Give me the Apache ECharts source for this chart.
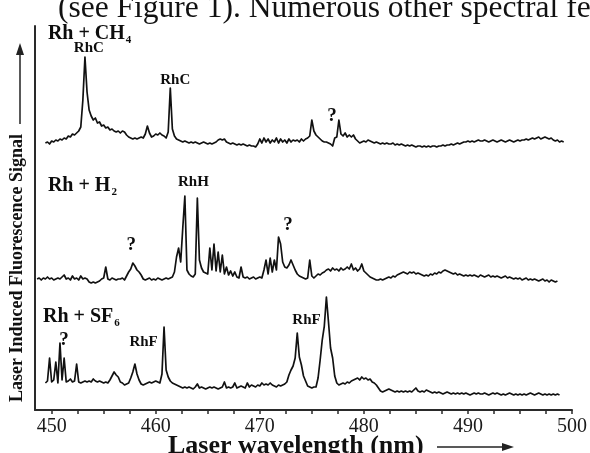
<!DOCTYPE html>
<html>
<head>
<meta charset="utf-8">
<script src="https://cdn.jsdelivr.net/npm/echarts@6/dist/echarts.min.js"></script>
<style>
  html, body { margin: 0; padding: 0; background: #fff; }
  #chart { width: 590px; height: 453px; }
</style>
</head>
<body>
<div id="chart"></div>
<script>
// Wavelength grid of each scan (nm): first point and spacing
const ch4Start = 449.4;
const h2Start = 448.6;
const sf6Start = 449.4;
const scanStep = 0.2;

// Laser induced fluorescence, stacked traces (arbitrary units)
const ch4Signal = [
  267, 268, 266, 269, 268, 270, 269, 271, 270, 272,
  271, 274, 273, 276, 275, 277, 279, 283, 310, 353,
  318, 300, 294, 290, 292, 287, 288, 284, 285, 282,
  283, 280, 281, 279, 278, 279, 277, 279, 278, 275,
  273, 272, 271, 272, 271, 272, 273, 272, 276, 284,
  277, 273, 274, 276, 275, 277, 275, 274, 272, 278,
  322, 281, 274, 271, 270, 269, 268, 269, 268, 267,
  268, 267, 268, 267, 266, 267, 268, 267, 266, 267,
  266, 267, 268, 270, 271, 270, 271, 268, 267, 266,
  267, 266, 265, 266, 265, 266, 265, 264, 265, 264,
  264, 263, 266, 271, 267, 272, 268, 271, 267, 270,
  268, 272, 267, 271, 268, 270, 267, 271, 268, 270,
  269, 270, 268, 271, 269, 271, 272, 274, 290, 279,
  275, 273, 271, 269, 268, 268, 267, 266, 264, 272,
  273, 290, 276, 274, 277, 273, 275, 273, 275, 271,
  269, 267, 268, 269, 268, 270, 269, 268, 267, 268,
  267, 266, 267, 266, 267, 266, 266, 267, 265, 266,
  265, 266, 265, 264, 265, 264, 265, 264, 263, 264,
  264, 263, 264, 263, 264, 263, 264, 264, 263, 264,
  264, 265, 264, 265, 265, 266, 265, 266, 267, 266,
  267, 268, 268, 269, 268, 269, 268, 269, 270, 269,
  269, 270, 269, 268, 269, 270, 269, 268, 269, 270,
  269, 268, 269, 270, 269, 268, 269, 270, 269, 270,
  270, 271, 270, 271, 272, 271, 272, 273, 271, 272,
  273, 272, 271, 272, 270, 269, 270, 268, 269, 268
];

const h2Signal = [
  131, 132, 130, 132, 131, 133, 131, 132, 130, 131,
  132, 131, 133, 135, 131, 132, 130, 134, 131, 132,
  130, 134, 131, 132, 131, 128, 127, 128, 127, 128,
  129, 131, 132, 143, 131, 130, 132, 131, 130, 131,
  131, 132, 130, 134, 138, 141, 147, 144, 140, 138,
  135, 131, 130, 131, 132, 130, 131, 130, 132, 131,
  130, 131, 132, 131, 132, 133, 138, 153, 162, 148,
  182, 214, 140, 136, 134, 133, 136, 212, 150, 142,
  138, 137, 136, 162, 140, 166, 139, 158, 138, 155,
  136, 143, 135, 139, 134, 138, 133, 132, 143, 133,
  132, 133, 131, 132, 133, 131, 132, 133, 132, 140,
  150, 136, 152, 138, 150, 140, 173, 166, 148, 143,
  142, 145, 150, 145, 140, 136, 134, 133, 132, 131,
  132, 150, 134, 132, 134, 136, 135, 137, 138, 140,
  141, 139, 142, 140, 141, 139, 142, 140, 141, 143,
  141, 146, 140, 142, 139, 141, 146, 139, 137, 135,
  133, 132, 131, 130, 130, 131, 130, 131, 132, 133,
  132, 134, 133, 135, 136, 137, 138, 137, 136, 138,
  137, 138, 136, 137, 136, 135, 134, 135, 134, 136,
  135, 137, 136, 138, 137, 139, 140, 139, 138, 137,
  136, 137, 135, 136, 135, 134, 135, 134, 135, 134,
  135, 134, 133, 135, 134, 133, 134, 135, 133, 134,
  133, 134, 133, 132, 133, 134, 132, 133, 132, 131,
  132, 131, 132, 130, 131, 132, 130, 131, 130, 131,
  130, 129, 130, 131, 129, 130, 128, 130, 129, 128,
  129
];

const sf6Signal = [
  27, 29, 52, 28, 30, 48, 27, 67, 30, 52,
  28, 29, 31, 28, 29, 46, 28, 27, 28, 29,
  28, 29, 28, 31, 29, 28, 29, 28, 27, 28,
  27, 30, 34, 38, 35, 33, 28, 27, 25, 26,
  27, 32, 38, 46, 36, 30, 26, 25, 26, 27,
  28, 27, 28, 29, 28, 27, 36, 83, 40, 33,
  29, 27, 26, 25, 24, 23, 22, 23, 22, 23,
  22, 21, 23, 26, 22, 23, 22, 21, 22, 23,
  22, 23, 22, 21, 22, 23, 28, 22, 23, 22,
  23, 27, 22, 23, 24, 23, 22, 27, 23, 25,
  24, 23, 25, 24, 27, 25, 26, 25, 27, 25,
  24, 23, 25, 24, 25, 26, 28, 35, 40, 44,
  52, 77, 53, 45, 34, 29, 24, 23, 22, 23,
  23, 32, 50, 70, 84, 113, 88, 62, 52, 34,
  27, 25, 26, 27, 26, 28, 27, 29, 30, 31,
  32, 30, 33, 31, 32, 30, 31, 28, 27, 25,
  22, 19, 18, 19, 20, 21, 20, 19, 18, 19,
  18, 19, 18, 19, 18, 19, 18, 20, 22, 19,
  18, 19, 18, 20, 19, 18, 17, 18, 17, 18,
  17, 16, 17, 18, 17, 16, 17, 16, 17, 16,
  17, 16, 17, 16, 15, 16, 17, 16, 17, 16,
  16, 17, 16, 15, 16, 17, 16, 17, 16, 15,
  16, 15, 16, 17, 16, 15, 16, 15, 16, 15,
  16, 15, 16, 17, 16, 15, 16, 17, 16, 15,
  16, 15, 16, 15, 16, 15, 16, 15
];

// Axis ticks (nm)
const tickValues = [450, 452.5, 455, 457.5, 460, 462.5, 465, 467.5, 470, 472.5,
  475, 477.5, 480, 482.5, 485, 487.5, 490, 492.5, 495, 497.5, 500];
const tickLabels = [450, 460, 470, 480, 490, 500];

// Reaction names (formula, subscript) and their anchors [nm, signal]
const reactionNames = [['Rh + CH', '4'], ['Rh + H', '2'], ['Rh + SF', '6']];
const reactionAnchors = [[449.64, 377], [449.64, 225], [449.17, 94]];

// Band assignments and their anchors [nm, signal]
const bandNames = ['RhC', 'RhC', '?', 'RhH', '?', '?', '?', 'RhF', 'RhF'];
const bandAnchors = [[453.57, 362], [461.88, 330], [476.93, 293.5], [463.62, 228],
  [457.64, 164.5], [472.72, 185], [451.18, 70], [458.83, 68], [474.49, 90]];

const SERIF = '"Liberation Serif", "Times New Roman", serif';
const INK = '#0d0d0d';

function toPairs(start, values) {
  return values.map((v, i) => [+(start + i * scanStep).toFixed(2), v]);
}

function traceSeries(name, start, values) {
  return {
    name: name,
    type: 'line',
    data: toPairs(start, values),
    showSymbol: false,
    symbol: 'none',
    silent: true,
    lineStyle: { color: '#111', width: 1.7, join: 'round' },
    z: 2
  };
}

const chart = echarts.init(document.getElementById('chart'), null, { renderer: 'canvas' });

const option = {
  backgroundColor: '#fff',
  animation: false,
  grid: { left: 35, right: 15.5, top: 26, bottom: 43 },
  xAxis: {
    type: 'value',
    min: 448.4,
    max: 500,
    axisLine: { show: true, lineStyle: { color: '#2a2a2a', width: 2 } },
    axisTick: { show: true, customValues: tickValues, length: 4, inside: false, lineStyle: { color: '#2a2a2a', width: 1.5 } },
    axisLabel: {
      customValues: tickLabels,
      margin: 7,
      fontFamily: SERIF,
      fontSize: 20,
      color: '#1a1a1a'
    },
    splitLine: { show: false }
  },
  yAxis: {
    type: 'value',
    min: 0,
    max: 384,
    axisLine: { show: true, lineStyle: { color: '#2a2a2a', width: 2 } },
    axisTick: { show: false },
    axisLabel: { show: false },
    splitLine: { show: false }
  },
  series: [
    traceSeries('Rh + CH4', ch4Start, ch4Signal),
    traceSeries('Rh + H2', h2Start, h2Signal),
    traceSeries('Rh + SF6', sf6Start, sf6Signal),
    {
      type: 'scatter',
      silent: true,
      symbolSize: 0,
      itemStyle: { opacity: 1 },
      z: 5,
      data: reactionNames.map((n, k) => ({
        value: reactionAnchors[k],
        label: {
          show: true,
          position: [0, 0],
          align: 'left',
          verticalAlign: 'middle',
          formatter: '{m|' + n[0] + '}{s|' + n[1] + '}'
        }
      })),
      label: {
        color: INK,
        opacity: 1,
        rich: {
          m: { fontFamily: SERIF, fontWeight: 'bold', fontSize: 20, color: INK, lineHeight: 22, verticalAlign: 'bottom' },
          s: { fontFamily: SERIF, fontWeight: 'bold', fontSize: 11, color: INK, lineHeight: 14, verticalAlign: 'bottom', padding: [0, 0, -2, 1] }
        }
      }
    },
    {
      type: 'scatter',
      silent: true,
      symbolSize: 0,
      itemStyle: { opacity: 1 },
      z: 5,
      data: bandNames.map((n, k) => ({
        value: bandAnchors[k],
        label: {
          show: true,
          position: [0, 0],
          align: 'center',
          verticalAlign: 'middle',
          formatter: n,
          fontSize: n === '?' ? 19 : 15
        }
      })),
      label: {
        fontFamily: SERIF,
        fontWeight: 'bold',
        color: INK,
        opacity: 1
      }
    }
  ],
  graphic: [
    {
      type: 'text',
      x: 58,
      y: 9,
      style: {
        text: '(see Figure 1). Numerous other spectral features',
        fontFamily: SERIF,
        fontSize: 31.5,
        fill: '#111',
        textAlign: 'left',
        textVerticalAlign: 'middle'
      }
    },
    {
      type: 'text',
      x: 17,
      y: 268,
      rotation: Math.PI / 2,
      style: {
        text: 'Laser Induced Fluorescence Signal',
        fontFamily: SERIF,
        fontWeight: 'bold',
        fontSize: 18,
        fill: '#111',
        textAlign: 'center',
        textVerticalAlign: 'middle'
      }
    },
    {
      type: 'line',
      shape: { x1: 20, y1: 124, x2: 20, y2: 52 },
      style: { stroke: '#222', lineWidth: 1.5 }
    },
    {
      type: 'polygon',
      shape: { points: [[20, 43], [16, 55], [24, 55]] },
      style: { fill: '#222' }
    },
    {
      type: 'text',
      x: 168,
      y: 446,
      style: {
        text: 'Laser wavelength (nm)',
        fontFamily: SERIF,
        fontWeight: 'bold',
        fontSize: 26,
        fill: '#111',
        textAlign: 'left',
        textVerticalAlign: 'middle'
      }
    },
    {
      type: 'line',
      shape: { x1: 437, y1: 447, x2: 505, y2: 447 },
      style: { stroke: '#222', lineWidth: 1.5 }
    },
    {
      type: 'polygon',
      shape: { points: [[514, 447], [502, 443], [502, 451]] },
      style: { fill: '#222' }
    }
  ]
};

chart.setOption(option);
</script>
</body>
</html>
